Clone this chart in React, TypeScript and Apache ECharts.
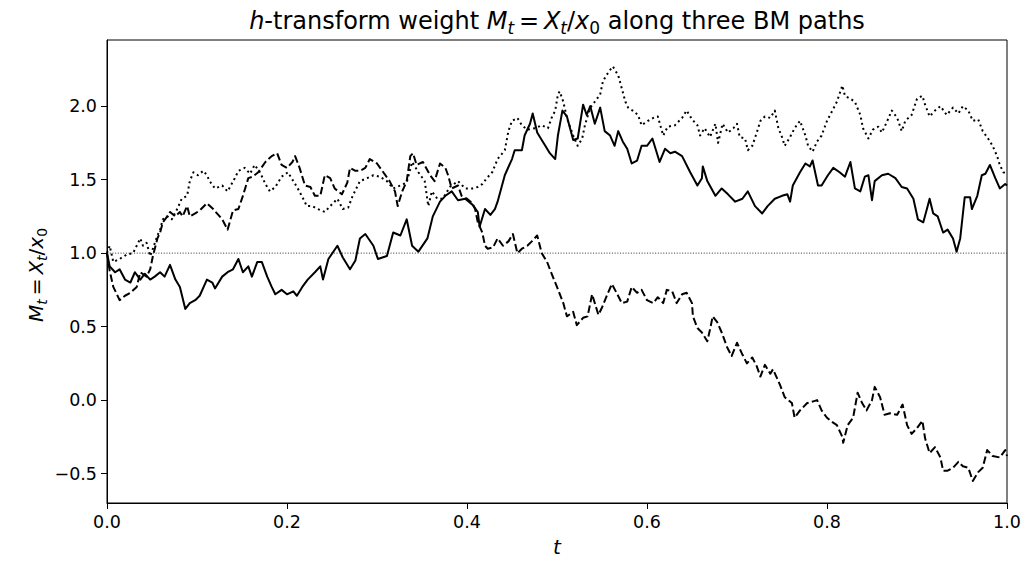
import React, { useEffect, useRef } from "react";
import * as echarts from "echarts";

// ---- data ----
const solidT = [0, 0.003, 0.009, 0.014, 0.02, 0.026, 0.031, 0.037, 0.042, 0.048, 0.053, 0.059, 0.064, 0.07, 0.076, 0.081, 0.087, 0.092, 0.098, 0.103, 0.111, 0.117, 0.12, 0.128, 0.134, 0.14, 0.146, 0.151, 0.157, 0.161, 0.167, 0.172, 0.178, 0.183, 0.187, 0.194, 0.2, 0.207, 0.211, 0.217, 0.223, 0.231, 0.237, 0.24, 0.246, 0.256, 0.262, 0.27, 0.276, 0.281, 0.287, 0.296, 0.301, 0.311, 0.318, 0.326, 0.333, 0.339, 0.346, 0.356, 0.362, 0.37, 0.376, 0.383, 0.39, 0.398, 0.406, 0.412, 0.414, 0.42, 0.426, 0.431, 0.434, 0.442, 0.45, 0.453, 0.461, 0.464, 0.47, 0.473, 0.478, 0.482, 0.487, 0.492, 0.498, 0.501, 0.506, 0.511, 0.518, 0.523, 0.529, 0.533, 0.537, 0.542, 0.548, 0.553, 0.559, 0.564, 0.568, 0.573, 0.578, 0.583, 0.589, 0.594, 0.6, 0.606, 0.61, 0.614, 0.62, 0.626, 0.631, 0.639, 0.648, 0.656, 0.661, 0.662, 0.667, 0.676, 0.683, 0.69, 0.698, 0.706, 0.712, 0.72, 0.728, 0.734, 0.742, 0.75, 0.756, 0.759, 0.762, 0.77, 0.776, 0.781, 0.784, 0.79, 0.794, 0.801, 0.807, 0.814, 0.82, 0.826, 0.831, 0.837, 0.842, 0.846, 0.85, 0.853, 0.861, 0.868, 0.876, 0.883, 0.889, 0.896, 0.901, 0.907, 0.911, 0.914, 0.918, 0.923, 0.929, 0.934, 0.94, 0.944, 0.948, 0.953, 0.959, 0.961, 0.967, 0.972, 0.976, 0.981, 0.987, 0.992, 0.998, 1.0];
const solidM = [1.0, 0.91, 0.87, 0.89, 0.82, 0.8, 0.87, 0.82, 0.86, 0.82, 0.84, 0.87, 0.84, 0.92, 0.82, 0.77, 0.62, 0.66, 0.68, 0.71, 0.82, 0.8, 0.76, 0.84, 0.87, 0.89, 0.96, 0.87, 0.91, 0.84, 0.94, 0.94, 0.84, 0.77, 0.72, 0.75, 0.72, 0.74, 0.71, 0.77, 0.82, 0.87, 0.91, 0.82, 0.96, 1.05, 0.97, 0.89, 0.95, 1.1, 1.13, 1.05, 0.96, 0.98, 1.14, 1.12, 1.23, 1.05, 1.01, 1.1, 1.25, 1.35, 1.39, 1.42, 1.36, 1.37, 1.33, 1.28, 1.18, 1.3, 1.26, 1.3, 1.35, 1.53, 1.64, 1.7, 1.7, 1.8, 1.88, 1.95, 1.82, 1.78, 1.73, 1.68, 1.64, 1.8, 1.97, 1.93, 1.77, 1.78, 2.01, 1.94, 2.0, 1.88, 1.99, 1.83, 1.8, 1.73, 1.83, 1.76, 1.71, 1.61, 1.63, 1.73, 1.73, 1.78, 1.7, 1.62, 1.71, 1.68, 1.69, 1.66, 1.55, 1.46, 1.51, 1.59, 1.49, 1.39, 1.44, 1.4, 1.35, 1.37, 1.42, 1.32, 1.27, 1.32, 1.37, 1.39, 1.4, 1.35, 1.46, 1.55, 1.61, 1.59, 1.63, 1.46, 1.46, 1.53, 1.58, 1.55, 1.52, 1.62, 1.44, 1.42, 1.52, 1.53, 1.36, 1.49, 1.53, 1.54, 1.51, 1.45, 1.44, 1.37, 1.23, 1.21, 1.3, 1.37, 1.27, 1.25, 1.14, 1.16, 1.1, 1.01, 1.1, 1.38, 1.38, 1.3, 1.39, 1.53, 1.54, 1.6, 1.51, 1.44, 1.47, 1.46];

const dashedT = [0, 0.003, 0.007, 0.011, 0.014, 0.02, 0.026, 0.033, 0.037, 0.044, 0.048, 0.051, 0.056, 0.059, 0.062, 0.067, 0.07, 0.076, 0.081, 0.084, 0.089, 0.092, 0.098, 0.103, 0.111, 0.118, 0.128, 0.134, 0.14, 0.146, 0.151, 0.157, 0.162, 0.168, 0.176, 0.183, 0.189, 0.194, 0.2, 0.206, 0.209, 0.214, 0.22, 0.226, 0.231, 0.237, 0.242, 0.248, 0.253, 0.261, 0.267, 0.27, 0.276, 0.281, 0.287, 0.292, 0.3, 0.307, 0.314, 0.32, 0.323, 0.328, 0.333, 0.337, 0.34, 0.344, 0.351, 0.359, 0.364, 0.37, 0.376, 0.379, 0.383, 0.39, 0.394, 0.4, 0.406, 0.409, 0.412, 0.417, 0.42, 0.423, 0.429, 0.434, 0.44, 0.446, 0.451, 0.456, 0.461, 0.467, 0.472, 0.478, 0.483, 0.489, 0.494, 0.5, 0.507, 0.511, 0.518, 0.522, 0.529, 0.534, 0.539, 0.542, 0.546, 0.55, 0.556, 0.561, 0.567, 0.572, 0.578, 0.583, 0.589, 0.594, 0.6, 0.607, 0.612, 0.618, 0.622, 0.628, 0.633, 0.639, 0.644, 0.65, 0.651, 0.656, 0.661, 0.667, 0.67, 0.673, 0.678, 0.683, 0.689, 0.694, 0.7, 0.706, 0.711, 0.717, 0.722, 0.726, 0.731, 0.737, 0.74, 0.748, 0.753, 0.761, 0.764, 0.77, 0.778, 0.784, 0.789, 0.794, 0.8, 0.806, 0.811, 0.817, 0.818, 0.823, 0.829, 0.834, 0.839, 0.844, 0.85, 0.853, 0.859, 0.864, 0.87, 0.878, 0.884, 0.889, 0.894, 0.9, 0.906, 0.909, 0.914, 0.92, 0.926, 0.929, 0.934, 0.94, 0.946, 0.951, 0.957, 0.962, 0.968, 0.973, 0.978, 0.984, 0.992, 0.998, 1.0];
const dashedM = [1.0, 0.88, 0.77, 0.72, 0.68, 0.71, 0.73, 0.77, 0.87, 0.84, 0.89, 0.98, 1.1, 1.14, 1.21, 1.25, 1.28, 1.25, 1.28, 1.25, 1.32, 1.25, 1.27, 1.29, 1.34, 1.3, 1.23, 1.16, 1.29, 1.3, 1.39, 1.51, 1.52, 1.55, 1.62, 1.66, 1.68, 1.6, 1.58, 1.62, 1.66, 1.58, 1.46, 1.45, 1.39, 1.39, 1.53, 1.51, 1.44, 1.4, 1.48, 1.58, 1.56, 1.56, 1.58, 1.64, 1.61, 1.55, 1.49, 1.42, 1.32, 1.42, 1.49, 1.66, 1.68, 1.6, 1.62, 1.53, 1.49, 1.61, 1.58, 1.53, 1.44, 1.46, 1.39, 1.37, 1.34, 1.3, 1.21, 1.14, 1.05, 1.03, 1.04, 1.1, 1.05, 1.08, 1.13, 1.0, 1.03, 1.05, 1.08, 1.12, 1.0, 0.94, 0.86, 0.77, 0.66, 0.57, 0.6, 0.51, 0.56, 0.57, 0.72, 0.66, 0.58, 0.63, 0.72, 0.79, 0.72, 0.66, 0.67, 0.77, 0.73, 0.75, 0.68, 0.66, 0.7, 0.66, 0.75, 0.74, 0.66, 0.72, 0.73, 0.66, 0.57, 0.49, 0.46, 0.4, 0.48, 0.57, 0.53, 0.46, 0.36, 0.3, 0.39, 0.31, 0.25, 0.29, 0.23, 0.16, 0.24, 0.18, 0.21, 0.1, 0.02, -0.02, -0.12, -0.07, -0.02, -0.01, 0.0, -0.07, -0.12, -0.15, -0.17, -0.25, -0.29, -0.17, -0.12, 0.05, -0.02, -0.07, 0.0, 0.09, 0.02, -0.1, -0.09, -0.1, -0.03, -0.17, -0.23, -0.19, -0.14, -0.26, -0.36, -0.32, -0.39, -0.48, -0.48, -0.46, -0.42, -0.45, -0.46, -0.55, -0.49, -0.46, -0.34, -0.38, -0.39, -0.34, -0.38];

const dottedT = [0, 0.003, 0.007, 0.014, 0.022, 0.029, 0.033, 0.037, 0.04, 0.044, 0.048, 0.051, 0.056, 0.059, 0.062, 0.067, 0.072, 0.078, 0.083, 0.089, 0.092, 0.096, 0.101, 0.107, 0.111, 0.114, 0.12, 0.128, 0.134, 0.142, 0.146, 0.153, 0.159, 0.164, 0.17, 0.176, 0.181, 0.187, 0.194, 0.201, 0.207, 0.212, 0.218, 0.222, 0.228, 0.234, 0.242, 0.248, 0.256, 0.262, 0.268, 0.273, 0.281, 0.289, 0.296, 0.303, 0.311, 0.318, 0.326, 0.333, 0.339, 0.346, 0.353, 0.357, 0.361, 0.367, 0.373, 0.381, 0.39, 0.398, 0.406, 0.412, 0.417, 0.422, 0.428, 0.434, 0.442, 0.446, 0.45, 0.456, 0.461, 0.467, 0.476, 0.483, 0.49, 0.494, 0.498, 0.501, 0.503, 0.507, 0.511, 0.518, 0.523, 0.528, 0.531, 0.537, 0.542, 0.548, 0.551, 0.557, 0.562, 0.568, 0.572, 0.576, 0.579, 0.584, 0.59, 0.594, 0.601, 0.607, 0.612, 0.618, 0.623, 0.631, 0.639, 0.644, 0.65, 0.656, 0.659, 0.664, 0.67, 0.676, 0.679, 0.684, 0.69, 0.696, 0.7, 0.703, 0.709, 0.712, 0.717, 0.722, 0.726, 0.731, 0.737, 0.742, 0.746, 0.75, 0.753, 0.759, 0.764, 0.77, 0.776, 0.779, 0.784, 0.789, 0.794, 0.8, 0.806, 0.811, 0.817, 0.82, 0.826, 0.831, 0.837, 0.84, 0.846, 0.851, 0.857, 0.861, 0.867, 0.872, 0.878, 0.883, 0.887, 0.894, 0.9, 0.906, 0.909, 0.914, 0.92, 0.926, 0.933, 0.94, 0.946, 0.951, 0.957, 0.962, 0.968, 0.973, 0.979, 0.984, 0.989, 0.992, 0.996, 1.0];
const dottedM = [1.0, 1.05, 0.94, 0.96, 0.99, 1.0, 1.05, 1.1, 1.05, 1.07, 0.98, 1.03, 1.12, 1.16, 1.23, 1.25, 1.23, 1.3, 1.37, 1.39, 1.49, 1.55, 1.53, 1.56, 1.53, 1.49, 1.44, 1.46, 1.42, 1.51, 1.56, 1.58, 1.54, 1.6, 1.55, 1.47, 1.42, 1.45, 1.52, 1.55, 1.49, 1.44, 1.37, 1.32, 1.32, 1.3, 1.28, 1.32, 1.37, 1.3, 1.31, 1.39, 1.49, 1.51, 1.53, 1.52, 1.49, 1.44, 1.46, 1.48, 1.62, 1.55, 1.49, 1.32, 1.42, 1.37, 1.37, 1.45, 1.49, 1.44, 1.44, 1.45, 1.47, 1.51, 1.55, 1.64, 1.7, 1.83, 1.9, 1.92, 1.87, 1.84, 1.85, 1.87, 1.85, 1.92, 1.97, 2.08, 2.1, 2.03, 1.92, 1.8, 1.73, 1.78, 1.87, 1.99, 2.03, 2.08, 2.17, 2.23, 2.27, 2.21, 2.12, 2.03, 1.99, 1.97, 1.94, 1.87, 1.9, 1.92, 1.93, 1.8, 1.86, 1.87, 1.92, 1.97, 1.91, 1.87, 1.8, 1.85, 1.79, 1.88, 1.75, 1.88, 1.82, 1.85, 1.88, 1.79, 1.78, 1.7, 1.73, 1.82, 1.9, 1.93, 1.92, 1.97, 1.85, 1.79, 1.73, 1.79, 1.85, 1.9, 1.8, 1.73, 1.69, 1.76, 1.8, 1.9, 1.97, 2.03, 2.14, 2.07, 2.05, 2.03, 1.94, 1.85, 1.78, 1.84, 1.86, 1.82, 1.9, 1.97, 1.92, 1.83, 1.9, 1.94, 2.05, 2.07, 2.01, 1.93, 1.97, 2.0, 1.94, 1.99, 1.95, 2.0, 1.97, 1.9, 1.91, 1.83, 1.78, 1.73, 1.66, 1.6, 1.55, 1.54];

const refT = [0, 1];
const refM = [1, 1];

const xTicks = [0, 0.2, 0.4, 0.6, 0.8, 1.0];
const yTicks = [-0.5, 0, 0.5, 1.0, 1.5, 2.0];

const zip = (t: number[], m: number[]) => t.map((v, i) => [v, m[i]]);
const FONT = "DejaVu Sans";
const fmt = (v: number) => (v < 0 ? "\u2212" : "") + Math.abs(v).toFixed(1);

export default function App() {
  const ref = useRef<HTMLDivElement>(null);
  useEffect(() => {
    if (!ref.current) return;
    const chart = echarts.init(ref.current, null, { renderer: "svg" });

    const mathRich = (size: number) => {
      const ss = Math.round(size * 0.7);
      return {
        n: { fontFamily: FONT, fontSize: size, color: "#000", lineHeight: size + 6 },
        i: { fontFamily: FONT, fontSize: size, fontStyle: "italic", color: "#000", lineHeight: size + 6 },
        s: { fontFamily: FONT, fontSize: ss, fontStyle: "italic", color: "#000", lineHeight: ss, verticalAlign: "bottom" },
        s0: { fontFamily: FONT, fontSize: ss, color: "#000", lineHeight: ss, verticalAlign: "bottom" },
      };
    };

    const lineSeries = (name: string, t: number[], m: number[], type: any, width: number, color = "#000", z = 2) => ({
      name,
      type: "line",
      data: zip(t, m),
      showSymbol: false,
      symbol: "none",
      z,
      lineStyle: { color, width, type, cap: "butt", join: "round" },
      emphasis: { disabled: true },
    });

    chart.setOption({
      animation: false,
      backgroundColor: "#fff",
      grid: { left: 107, right: 18, top: 40, bottom: 62, show: true, borderColor: "#000", borderWidth: 1, backgroundColor: "transparent" },
      xAxis: {
        type: "value",
        min: 0,
        max: 1,
        interval: 0.2,
        axisLine: { show: true, onZero: false, lineStyle: { color: "#000", width: 1 } },
        axisTick: { show: true, inside: false, length: 6, lineStyle: { color: "#000", width: 1 }, customValues: xTicks },
        axisLabel: { color: "#000", fontSize: 17.5, fontFamily: FONT, margin: 10, customValues: xTicks, formatter: (v: number) => fmt(v) },
        splitLine: { show: false },
      },
      yAxis: {
        type: "value",
        min: -0.7,
        max: 2.45,
        axisLine: { show: true, onZero: false, lineStyle: { color: "#000", width: 1 } },
        axisTick: { show: true, inside: false, length: 6, lineStyle: { color: "#000", width: 1 }, customValues: yTicks },
        axisLabel: { color: "#000", fontSize: 17.5, fontFamily: FONT, margin: 10, customValues: yTicks, formatter: (v: number) => fmt(v) },
        splitLine: { show: false },
      },
      series: [
        lineSeries("ref", refT, refM, [1.1, 1.6], 1, "#444", 1),
        lineSeries("path 2", dashedT, dashedM, [7.5, 3.3], 2),
        lineSeries("path 3", dottedT, dottedM, [2, 3.3], 2),
        lineSeries("path 1", solidT, solidM, "solid", 2),
      ],
      graphic: [
        {
          type: "text",
          x: 557,
          y: 21,
          style: {
            text: "{i|h}{n|-transform weight }{i|M}{s|t}{n|\u2009=\u2009}{i|X}{s|t}{n|/}{i|x}{s0|0}{n| along three BM paths}",
            rich: mathRich(24),
            align: "center",
            verticalAlign: "middle",
            textAlign: "center",
            textVerticalAlign: "middle",
          },
        },
        {
          type: "text",
          x: 36,
          y: 275,
          rotation: Math.PI / 2,
          style: {
            text: "{i|M}{s|t}{n|\u2009=\u2009}{i|X}{s|t}{n|/}{i|x}{s0|0}",
            rich: mathRich(20),
            align: "center",
            verticalAlign: "middle",
            textAlign: "center",
            textVerticalAlign: "middle",
          },
        },
        {
          type: "text",
          x: 557,
          y: 547,
          style: {
            text: "t",
            fontFamily: FONT,
            fontSize: 20,
            fontStyle: "italic",
            fill: "#000",
            align: "center",
            verticalAlign: "middle",
            textAlign: "center",
            textVerticalAlign: "middle",
          },
        },
      ],
    });
    return () => chart.dispose();
  }, []);
  return <div ref={ref} style={{ width: 1025, height: 565, position: "fixed", left: 0, top: 0 }} />;
}
